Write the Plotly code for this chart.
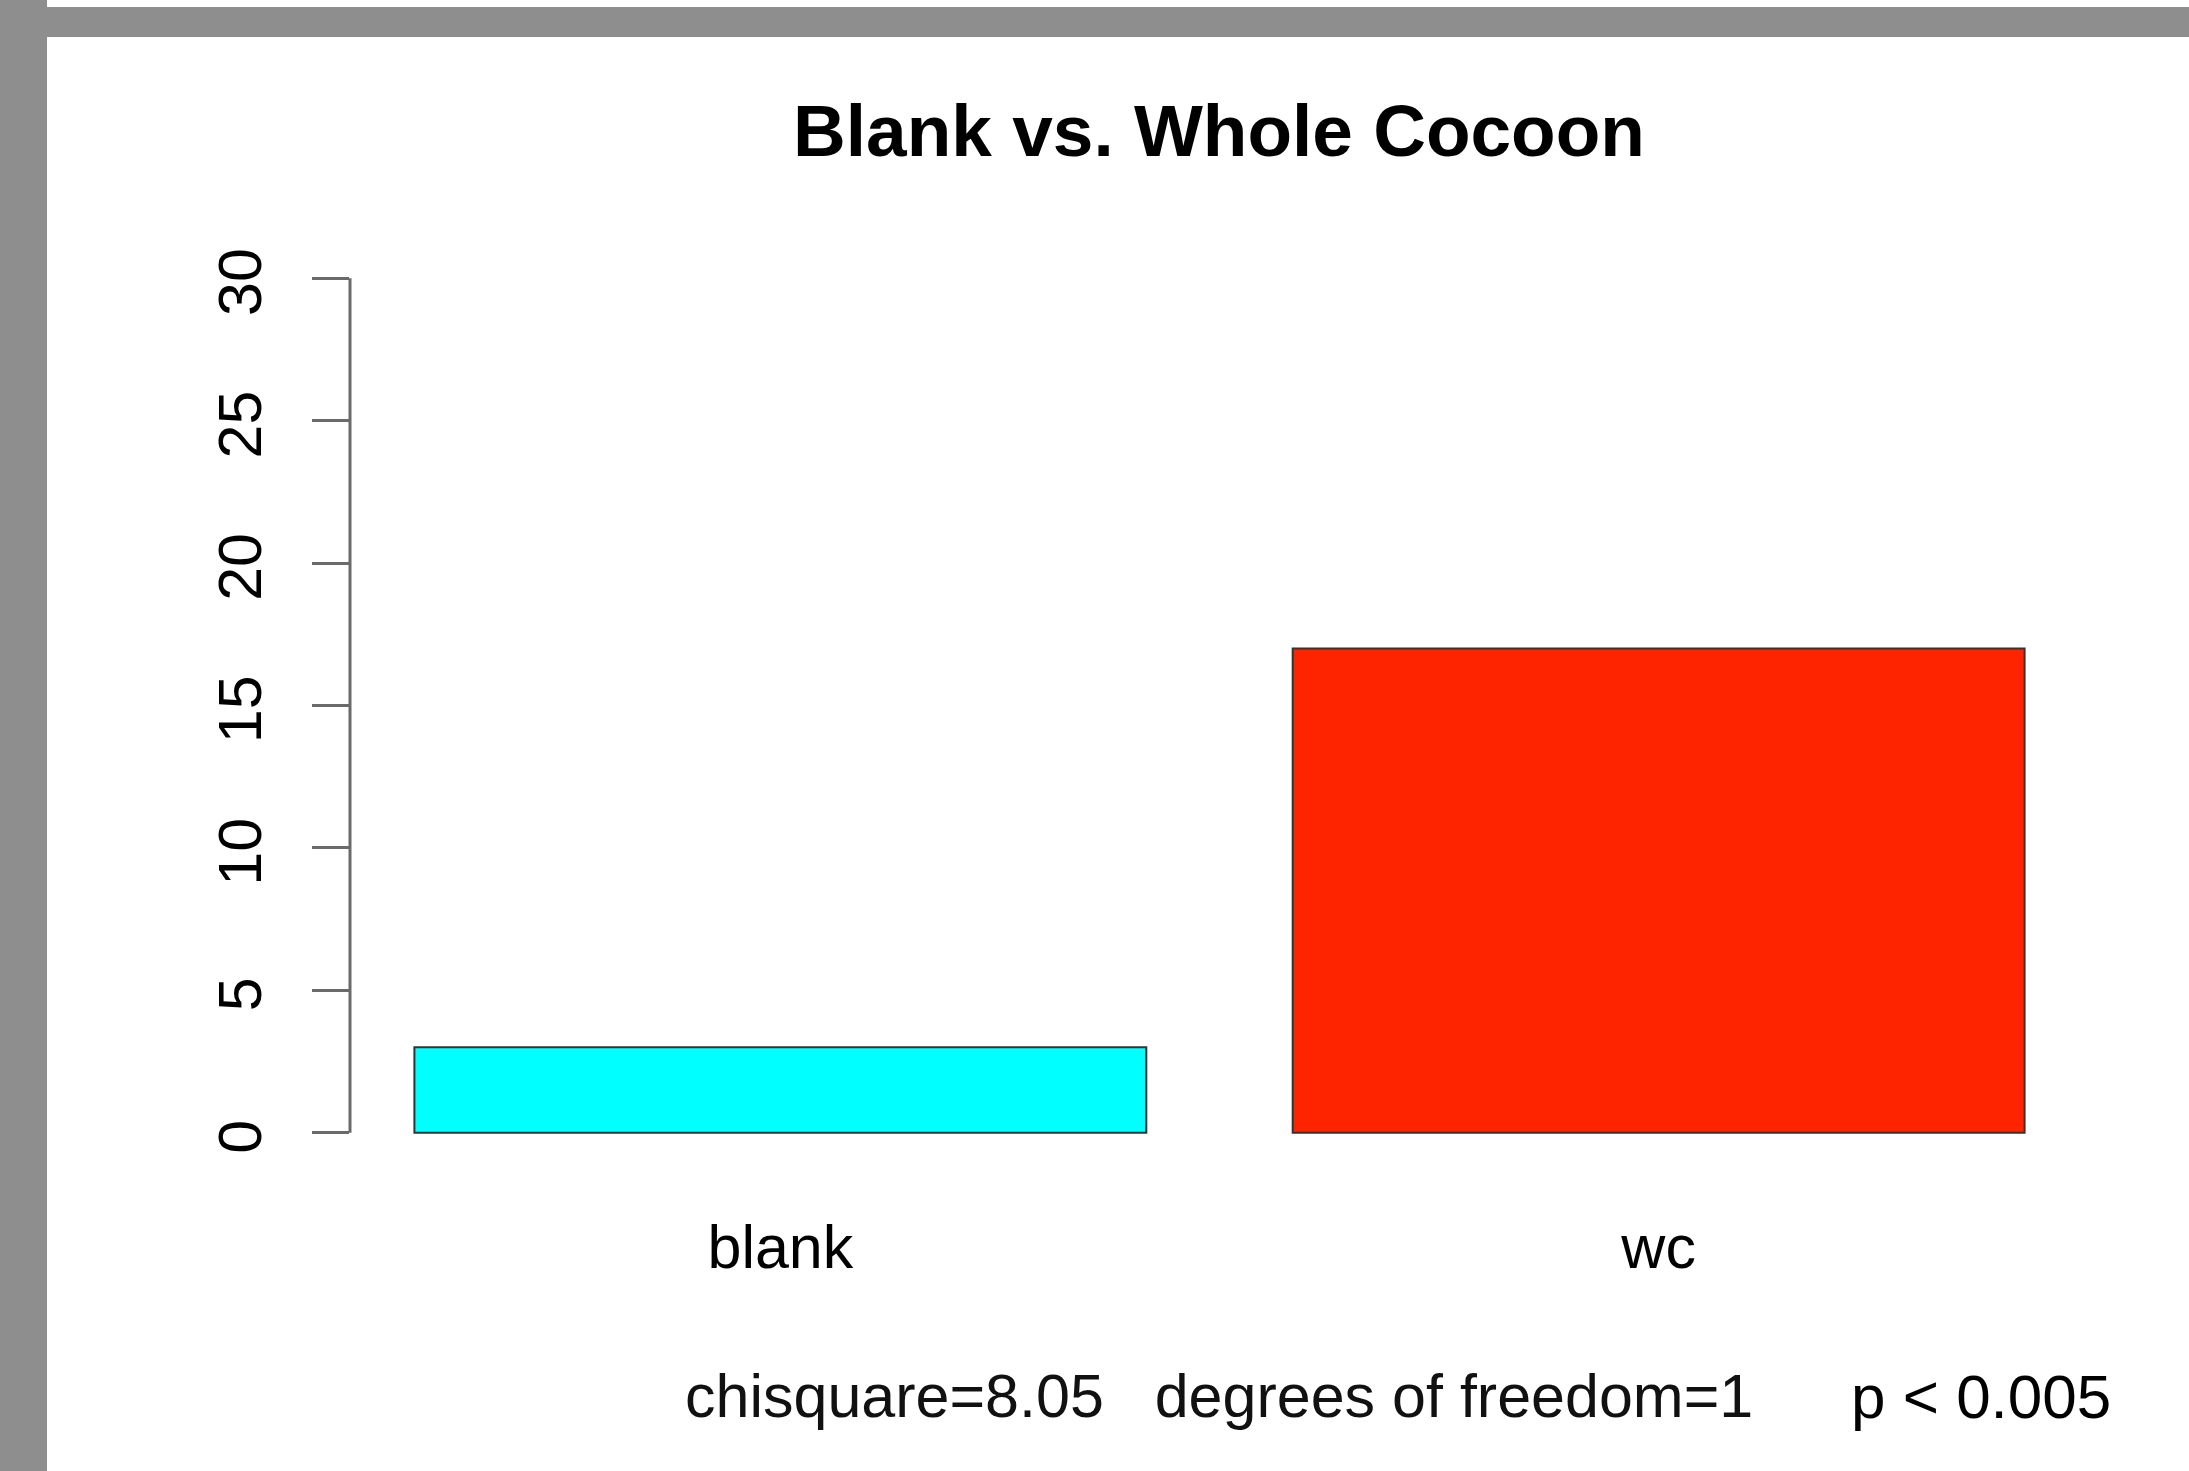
import plotly.graph_objects as go

# ---- data ----
categories = ["blank", "wc"]
counts = [3, 17]
bar_colors = ["#00FFFF", "#FF2400"]
y_ticks = [0, 5, 10, 15, 20, 25, 30]
title_text = "Blank vs. Whole Cocoon"
stats_text = "chisquare=8.05\u00a0\u00a0\u00a0degrees of freedom=1"
p_text = "p < 0.005"

# ---- layout geometry (pixels) ----
W, H = 2189, 1471
ML, MR, MT, MB = 350, 100, 244, 304
PW = W - ML - MR
PH = H - MT - MB


def px_x(px):
    return (px - ML) / PW


def px_y(py):
    return (H - MB - py) / PH


FONT = "Liberation Sans, Arial, Helvetica, sans-serif"
GRAY = "#8E8E8E"
AXIS = "#6A6A6A"

fig = go.Figure(
    go.Bar(
        x=categories,
        y=counts,
        marker=dict(color=bar_colors, line=dict(color="#333333", width=2)),
        showlegend=False,
        hoverinfo="x+y",
    )
)

fig.update_layout(
    width=W,
    height=H,
    margin=dict(l=ML, r=MR, t=MT, b=MB, pad=0),
    paper_bgcolor="white",
    plot_bgcolor="white",
    bargap=1 - 1 / 1.2,
    font=dict(family=FONT, color="black", size=61),
    title=dict(
        text="<b>" + title_text + "</b>",
        font=dict(family=FONT, size=73, color="black"),
        x=px_x(1219),
        xref="paper",
        xanchor="center",
        y=1 - 130 / H,
        yref="container",
        yanchor="middle",
    ),
    xaxis=dict(
        type="category",
        range=[-0.49, 1.49],
        showgrid=False,
        zeroline=False,
        showline=False,
        ticks="",
        ticklabelstandoff=39,
        tickfont=dict(family=FONT, size=61, color="black"),
        fixedrange=True,
    ),
    yaxis=dict(
        range=[-1.2, 31.2],
        tickvals=y_ticks,
        ticktext=[str(v) for v in y_ticks],
        ticks="outside",
        ticklen=37,
        tickwidth=3,
        tickcolor=AXIS,
        tickangle=-90,
        showgrid=False,
        zeroline=False,
        showline=False,
        tickfont=dict(family=FONT, size=61, color="black"),
        ticklabelstandoff=27,
        ticklabelshift=13,
        fixedrange=True,
    ),
)

shapes = [
    # y axis line from 0 to 30 (R style)
    dict(type="line", xref="paper", yref="y", x0=0, x1=0, y0=y_ticks[0], y1=y_ticks[-1],
         line=dict(color=AXIS, width=3)),
    # grey frame: left band
    dict(type="rect", xref="paper", yref="paper", x0=px_x(0), x1=px_x(47), y0=px_y(H), y1=px_y(0),
         fillcolor=GRAY, line=dict(width=0), layer="above"),
    # grey frame: top band
    dict(type="rect", xref="paper", yref="paper", x0=px_x(0), x1=px_x(W), y0=px_y(37), y1=px_y(7),
         fillcolor=GRAY, line=dict(width=0), layer="above"),
]
fig.update_layout(shapes=shapes)

fig.add_annotation(
    text=stats_text, xref="paper", yref="paper", x=px_x(1219), y=px_y(1396),
    xanchor="center", yanchor="middle", showarrow=False,
    font=dict(family=FONT, size=61, color="#111111"),
)
fig.add_annotation(
    text=p_text, xref="paper", yref="paper", x=px_x(1849), y=px_y(1396),
    xanchor="left", yanchor="middle", showarrow=False,
    font=dict(family=FONT, size=62, color="black"),
)

fig.write_html("out.html", config={"displayModeBar": False})
